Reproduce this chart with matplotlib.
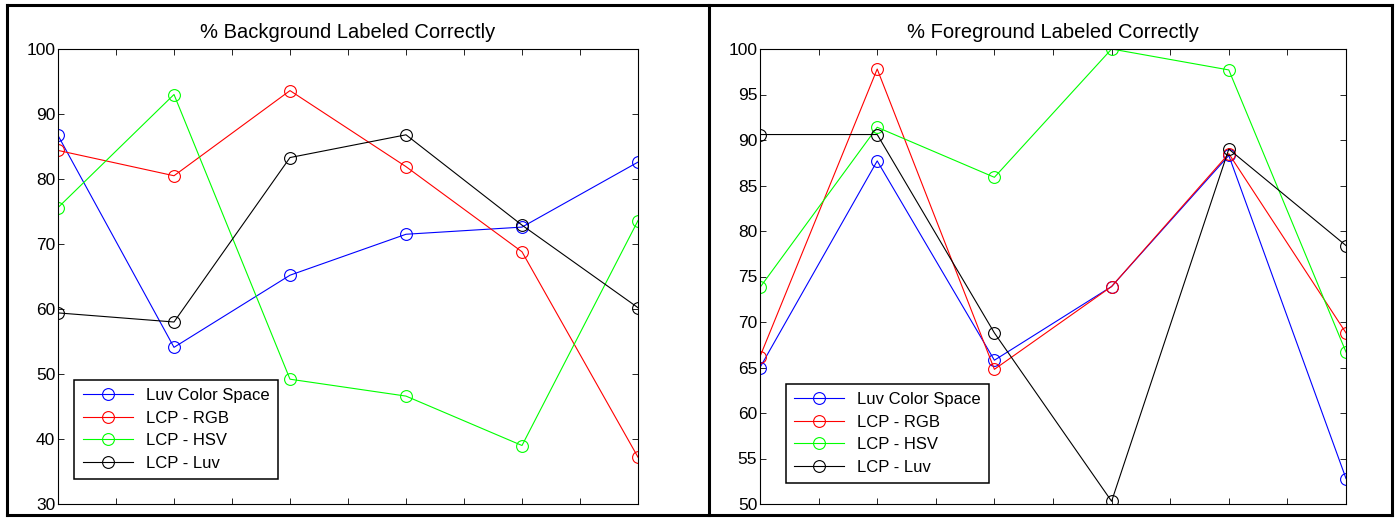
import numpy as np
import matplotlib
matplotlib.use('Agg')
import matplotlib.pyplot as plt
from matplotlib.lines import Line2D

plt.rcParams['font.family'] = ['Liberation Sans', 'DejaVu Sans']
plt.rcParams['font.size'] = 12

# data: 6 test images, x at 1..6
x = [1, 2, 3, 4, 5, 6]
names = ['Luv Color Space', 'LCP - RGB', 'LCP - HSV', 'LCP - Luv']
colors = ['#0000ff', '#ff0000', '#00ff00', '#000000']

bg_luv = [86.7, 54.1, 65.2, 71.5, 72.6, 82.6]
bg_rgb = [84.4, 80.5, 93.6, 81.9, 68.8, 37.2]
bg_hsv = [75.6, 93.0, 49.2, 46.6, 39.0, 73.6]
bg_lcpluv = [59.4, 58.0, 83.3, 86.8, 72.9, 60.2]

fg_luv = [65.0, 87.7, 65.8, 73.9, 88.3, 52.8]
fg_rgb = [66.2, 97.8, 64.8, 73.9, 88.5, 68.8]
fg_hsv = [73.8, 91.4, 85.9, 100.0, 97.7, 66.7]
fg_lcpluv = [90.6, 90.6, 68.8, 50.3, 89.0, 78.4]

bg = [bg_luv, bg_rgb, bg_hsv, bg_lcpluv]
fg = [fg_luv, fg_rgb, fg_hsv, fg_lcpluv]

fig = plt.figure(figsize=(14, 5.18), dpi=100)
axL = fig.add_axes([58 / 1400, 1 - 504 / 518, 580 / 1400, 455 / 518])
axR = fig.add_axes([760 / 1400, 1 - 504 / 518, 586 / 1400, 455 / 518])


def panel(ax, series, title, ylim, yticks, leg_anchor):
    for s, n, c in zip(series, names, colors):
        ax.plot(x, s, '-o', color=c, mfc='none', mec=c, ms=8.5, lw=0.8, mew=0.8, label=n)
    ax.set_xlim(1, 6); ax.set_ylim(*ylim)
    ax.set_xticks(np.arange(1, 6.01, 0.5)); ax.set_xticklabels([])
    ax.set_yticks(yticks)
    ax.tick_params(direction='in', top=True, right=True, length=4, width=0.6, labelsize=12.5, pad=2)
    for sp in ax.spines.values():
        sp.set_linewidth(0.8)
    ax.set_title(title, fontsize=14.5, pad=8)
    leg = ax.legend(loc='lower left', bbox_to_anchor=leg_anchor, borderaxespad=0,
                    fancybox=False, edgecolor='black', framealpha=1, handlelength=3.0,
                    fontsize=12, borderpad=0.5, labelspacing=0.45)
    leg.get_frame().set_linewidth(1.1)


panel(axL, bg, '% Background Labeled Correctly', (30, 100), range(30, 101, 10), (0.028, 0.055))
panel(axR, fg, '% Foreground Labeled Correctly', (50, 100), range(50, 101, 5), (0.044, 0.046))

# outer frame and divider
H = 518; W = 1400
fr = dict(color='black', lw=2.2, transform=fig.transFigure, clip_on=False)
fig.add_artist(Line2D([7 / W, 1392 / W], [1 - 5 / H, 1 - 5 / H], **fr))
fig.add_artist(Line2D([7 / W, 1392 / W], [1 - 515 / H, 1 - 515 / H], **fr))
fig.add_artist(Line2D([7 / W, 7 / W], [1 - 5 / H, 1 - 515 / H], **fr))
fig.add_artist(Line2D([1392 / W, 1392 / W], [1 - 5 / H, 1 - 515 / H], **fr))
fig.add_artist(Line2D([709 / W, 709 / W], [1 - 5 / H, 1 - 515 / H], **fr))

fig.savefig('out.png', dpi=100)
